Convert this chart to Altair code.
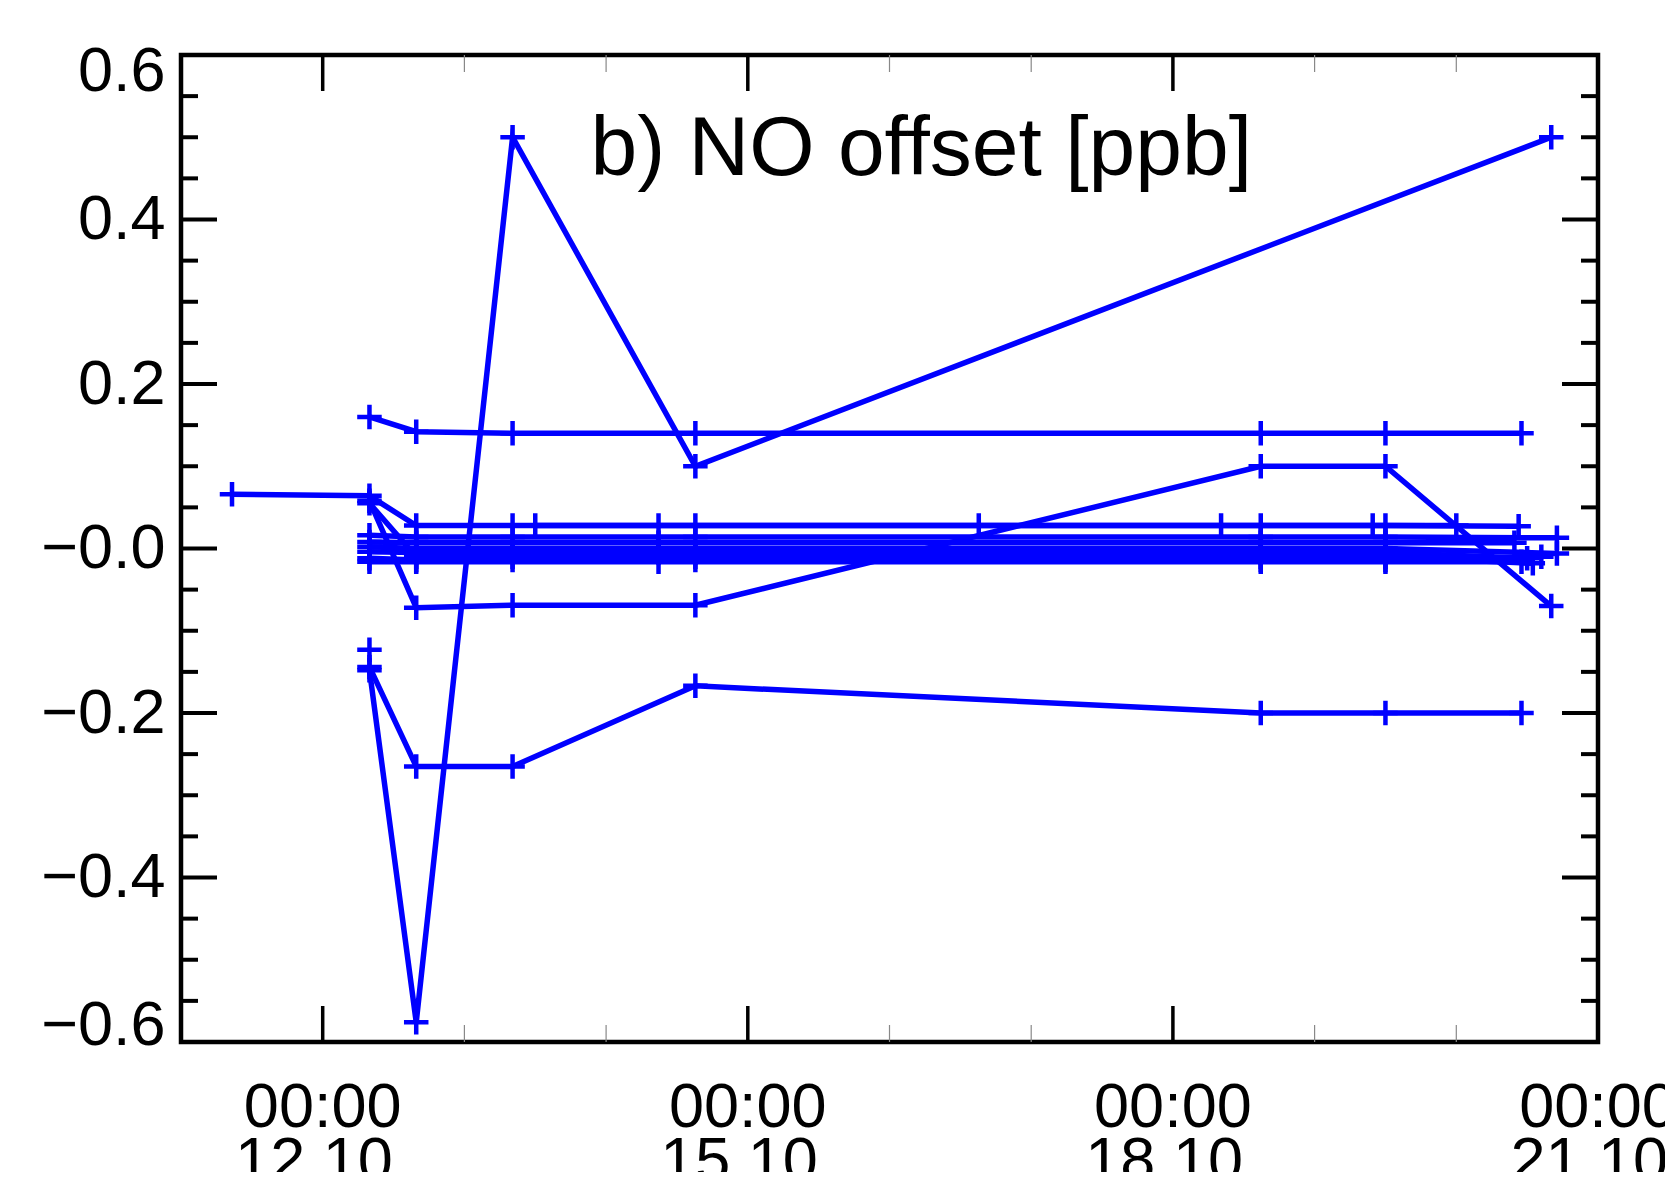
import altair as alt
import pandas as pd

# ---- data (time in days of October, value in ppb) ----
s1_t = [12.33, 12.66, 13.34, 14.63, 18.62, 19.50, 20.46]
s1_v = [0.160, 0.142, 0.140, 0.140, 0.140, 0.140, 0.140]
s2_t = [12.33, 12.66, 13.34, 14.63, 20.67]
s2_v = [-0.148, -0.576, 0.500, 0.100, 0.500]
s3_t = [12.33, 12.66, 13.34, 14.63, 18.62, 19.50, 20.46]
s3_v = [-0.144, -0.265, -0.265, -0.167, -0.200, -0.200, -0.200]
s4_t = [12.33]
s4_v = [-0.123]
s5_t = [11.36, 12.33, 12.66, 13.34, 14.63, 18.62, 19.50, 20.44]
s5_v = [0.066, 0.064, 0.028, 0.028, 0.028, 0.028, 0.028, 0.027]
s6_t = [12.33, 12.66, 13.34, 14.63, 18.62, 19.50, 20.67]
s6_v = [0.058, -0.072, -0.069, -0.069, 0.100, 0.100, -0.070]
s7_t = [13.50, 14.37, 16.63, 18.34, 19.41, 20.00]
s7_v = [0.028, 0.028, 0.028, 0.028, 0.028, 0.028]
s8_t = [12.33, 12.66, 13.34, 14.63, 18.62, 19.50, 20.71]
s8_v = [0.016, 0.014, 0.014, 0.014, 0.014, 0.014, 0.013]
s9_t = [12.33, 12.66, 14.37, 18.62, 19.50, 20.41]
s9_v = [0.008, 0.007, 0.007, 0.007, 0.007, 0.007]
s10_t = [12.33, 12.66, 13.34, 14.37, 18.62, 19.50, 20.71]
s10_v = [0.002, 0.000, 0.000, 0.000, 0.000, 0.000, -0.006]
s11_t = [12.33, 12.66, 13.34, 14.63, 18.62, 19.50, 20.54]
s11_v = [0.055, -0.010, -0.010, -0.010, -0.010, -0.010, -0.018]
s12_t = [12.33, 12.66, 14.37, 14.63, 18.62, 19.50, 20.50]
s12_v = [-0.004, -0.005, -0.005, -0.005, -0.005, -0.005, -0.012]
s13_t = [12.33, 12.66, 13.34, 14.63, 18.62, 19.50, 20.60]
s13_v = [-0.012, -0.014, -0.014, -0.014, -0.014, -0.014, -0.010]
s14_t = [12.33, 12.66, 14.37, 18.62, 19.50, 20.46]
s14_v = [-0.016, -0.016, -0.016, -0.016, -0.016, -0.016]

x_major = [12, 15, 18, 21]
x_label_time = ["00:00", "00:00", "00:00", "00:00"]
x_label_date = ["12.10.", "15.10.", "18.10.", "21.10."]
x_minor = [13, 14, 16, 17, 19, 20]
y_major = [-0.6, -0.4, -0.2, 0.0, 0.2, 0.4, 0.6]
y_minor = [-0.55, -0.5, -0.45, -0.35, -0.3, -0.25, -0.15, -0.1, -0.05,
           0.05, 0.1, 0.15, 0.25, 0.3, 0.35, 0.45, 0.5, 0.55]

title_text = "b) NO offset [ppb]"
title_pos_t = [13.89]
title_pos_v = [0.454]

# ---- assemble ----
series = [
    ("s1", s1_t, s1_v), ("s2", s2_t, s2_v), ("s3", s3_t, s3_v), ("s4", s4_t, s4_v),
    ("s5", s5_t, s5_v), ("s6", s6_t, s6_v), ("s7", s7_t, s7_v), ("s8", s8_t, s8_v),
    ("s9", s9_t, s9_v), ("s10", s10_t, s10_v), ("s11", s11_t, s11_v),
    ("s12", s12_t, s12_v), ("s13", s13_t, s13_v), ("s14", s14_t, s14_v),
]
rows = []
for name, ts, vs in series:
    for i, (t, v) in enumerate(zip(ts, vs)):
        rows.append({"s": name, "i": i, "t": t, "v": v})
df = pd.DataFrame(rows)

W, H = 1417, 987
BLUE = "#0000ff"
FONT = "Liberation Sans"

xscale = alt.Scale(domain=[11, 21], nice=False, zero=False)
yscale = alt.Scale(domain=[-0.6, 0.6], nice=False, zero=False)

y_axis = alt.Axis(values=y_major,
                  labelExpr="datum.value > 0.01 ? format(datum.value, '.1f') : '\u2212' + format(abs(datum.value), '.1f')",
                  ticks=False, domain=False, grid=False, title=None,
                  labelFontSize=63, labelPadding=16, labelFlush=True, labelFlushOffset=15,
                  labelOverlap=False, labelFont=FONT, labelColor="black")

X = lambda: alt.X("t:Q", scale=xscale, axis=None)
Y = lambda: alt.Y("v:Q", scale=yscale, axis=y_axis)

lines = alt.Chart(df).mark_line(color=BLUE, strokeWidth=5.5).encode(
    x=X(), y=Y(), detail="s:N", order="i:Q",
)
points = alt.Chart(df).mark_point(shape="M-1,0L1,0M0,-1L0,1", filled=False, size=600,
                                  strokeWidth=4.5, color=BLUE, opacity=1).encode(
    x=X(), y=Y(),
)

title_df = pd.DataFrame({"t": title_pos_t, "v": title_pos_v, "label": [title_text]})
title = alt.Chart(title_df).mark_text(align="left", baseline="alphabetic", fontSize=84,
                                      font=FONT, color="black").encode(
    x=X(), y=Y(), text="label:N",
)

xlab_df = pd.DataFrame({"t": x_major, "time": x_label_time, "date": x_label_date})
xlab_time = alt.Chart(xlab_df).mark_text(align="center", baseline="alphabetic", fontSize=63,
                                         font=FONT, color="black").encode(
    x=X(), y=alt.value(H + 85), text="time:N")
xlab_date = alt.Chart(xlab_df).mark_text(align="center", baseline="alphabetic", fontSize=63,
                                         font=FONT, color="black").encode(
    x=X(), y=alt.value(H + 139), text="date:N")

ymaj_df = pd.DataFrame({"v": y_major})
ymin_df = pd.DataFrame({"v": y_minor})
xmaj_df = pd.DataFrame({"t": x_major})
xmin_df = pd.DataFrame({"t": x_minor})

def yticks(d, length, right):
    x0 = W if right else 0
    x1 = W - length if right else length
    return alt.Chart(d).mark_rule(color="black", strokeWidth=4).encode(
        y=Y(), x=alt.value(x0), x2=alt.value(x1))

def xticks(d, length, top, color, sw):
    y0 = 0 if top else H
    y1 = length if top else H - length
    return alt.Chart(d).mark_rule(color=color, strokeWidth=sw).encode(
        x=X(), y=alt.value(y0), y2=alt.value(y1))

ticks = [
    yticks(ymaj_df, 36, False), yticks(ymin_df, 17, False),
    yticks(ymaj_df, 36, True), yticks(ymin_df, 17, True),
    xticks(xmaj_df, 36, False, "black", 3.5), xticks(xmaj_df, 36, True, "black", 3.5),
    xticks(xmin_df, 17, False, "#888888", 1.2), xticks(xmin_df, 17, True, "#888888", 1.2),
]

chart = alt.layer(lines, points, title, xlab_time, xlab_date, *ticks).properties(
    width=W, height=H,
    autosize=alt.AutoSizeParams(type="none"),
    padding={"left": 173, "top": 47, "right": 67, "bottom": 130},
).configure_view(stroke="black", strokeWidth=4.5).configure_axis(labelFont=FONT)

chart.save("out.html", embed_options={"renderer": "svg", "actions": False})
